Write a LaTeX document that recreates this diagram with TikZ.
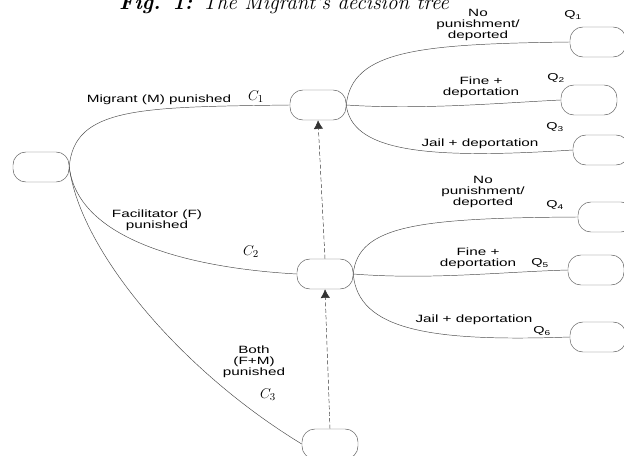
\documentclass[tikz,border=0pt]{standalone}
\usepackage{fontspec}
\usetikzlibrary{arrows.meta}
\newfontfamily\lblfont[FakeStretch=1.45]{Liberation Sans}

\begin{document}
\begin{tikzpicture}[x=0.03cm, y=-0.03cm,
    choice/.style={draw=black!65, rounded corners=11, minimum width=1.68cm, minimum height=0.9cm, inner sep=0pt},
    branch/.style={draw=black!70, line width=0.4pt},
    link/.style={draw=black!80, dash pattern=on 3.5pt off 2pt, -{Latex[length=2.6mm,width=2.8mm]}},
    lbl/.style={font=\lblfont\fontsize{9}{9.6}\selectfont, align=center, inner sep=0pt},
    qname/.style={font=\lblfont\fontsize{8.5}{9}\selectfont, inner sep=0pt},
    cost/.style={font=\fontsize{13}{14}\selectfont, inner sep=0pt}]
  \useasboundingbox (0,0) rectangle (624,456);

  \node[anchor=base west, font=\fontsize{18}{20}\selectfont\itshape] (title) at (115,10) {\textbf{Fig. 1:} The Migrant's decision tree};

  % choice boxes
  \node[choice] (root) at (41,167) {};
  \node[choice] (c1) at (318,105) {};
  \node[choice] (c2) at (325,274) {};
  \node[choice] (c3) at (330,444) {};
  \node[choice] (q1) at (598,42) {};
  \node[choice] (q2) at (589,100) {};
  \node[choice] (q3) at (601,150) {};
  \node[choice] (q4) at (606,217) {};
  \node[choice] (q5) at (596,270) {};
  \node[choice] (q6) at (598,337) {};

  % first split
  \draw[branch] (root.east) .. controls (74,107) and (140,107) .. (c1.west);
  \draw[branch] (root.east) .. controls (78,240) and (190,268) .. (c2.west);
  \draw[branch] (root.east) .. controls (80,250) and (180,370) .. (c3.west);

  % second split
  \draw[branch] (c1.east) .. controls (352,50) and (420,44) .. (q1.west);
  \draw[branch] (c1.east) .. controls (420,110) and (500,103) .. (q2.west);
  \draw[branch] (c1.east) .. controls (352,150) and (420,160) .. (q3.west);
  \draw[branch] (c2.east) .. controls (358,225) and (420,218) .. (q4.west);
  \draw[branch] (c2.east) .. controls (430,280) and (500,272) .. (q5.west);
  \draw[branch] (c2.east) .. controls (358,330) and (430,342) .. (q6.west);

  \draw[link] (c3.north) -- (c2.south);
  \draw[link] (c2.north) -- (c1.south);

  \node[lbl] (mig) at (159,100) {Migrant (M) punished};
  \node[cost] (cost1) at (256,97) {$C_1$};
  \node[lbl] (fac) at (157,220) {Facilitator (F)\\punished};
  \node[cost] (cost2) at (251,252) {$C_2$};
  \node[lbl] (both) at (254,362) {Both\\(F+M)\\punished};
  \node[cost] (cost3) at (268,395) {$C_3$};

  \node[lbl] (nop1) at (478,25) {No\\punishment/\\deported};
  \node[lbl] (fine1) at (481,87) {Fine +\\deportation};
  \node[lbl] (jail1) at (480,144) {Jail + deportation};
  \node[lbl] (nop2) at (483,192) {No\\punishment/\\deported};
  \node[lbl] (fine2) at (478,258) {Fine +\\deportation};
  \node[lbl] (jail2) at (474,320) {Jail + deportation};

  \node[qname] (lq1) at (573,15) {Q\textsubscript{1}};
  \node[qname] (lq2) at (556,78) {Q\textsubscript{2}};
  \node[qname] (lq3) at (555,127) {Q\textsubscript{3}};
  \node[qname] (lq4) at (555,205) {Q\textsubscript{4}};
  \node[qname] (lq5) at (540,263) {Q\textsubscript{5}};
  \node[qname] (lq6) at (542,331) {Q\textsubscript{6}};
\end{tikzpicture}
\end{document}
